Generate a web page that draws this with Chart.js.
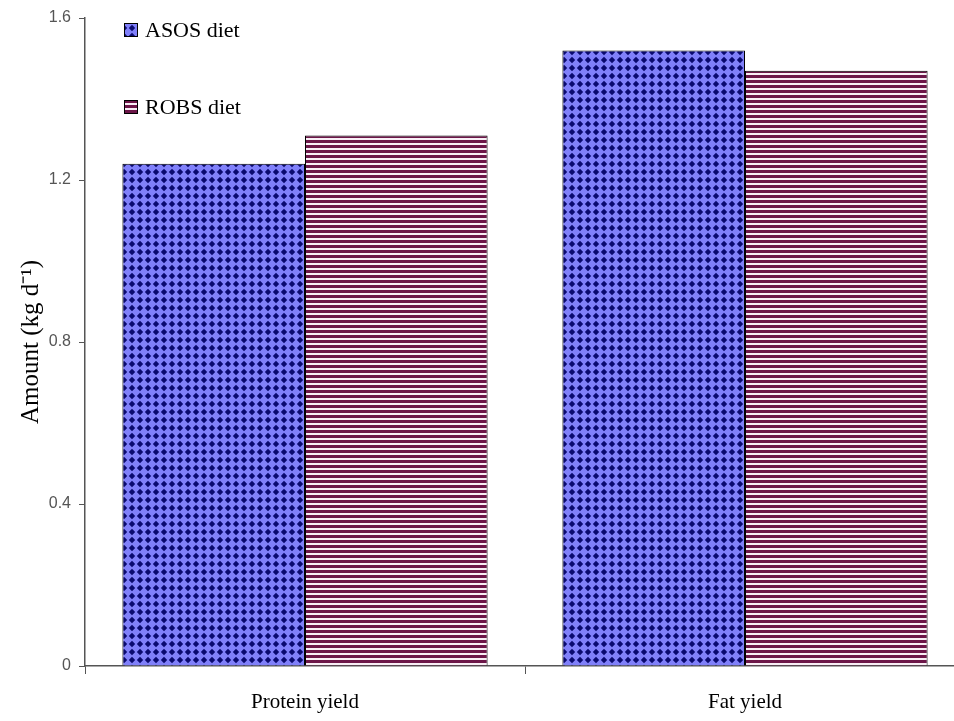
<!DOCTYPE html>
<html>
<head>
    <meta charset="UTF-8">
    <title>Protein and fat yield</title>
    <script src="https://cdn.jsdelivr.net/npm/chart.js"></script>
    <style>
        body {
          margin: 0;
          padding: 0;
          background-color: #ffffff;
          overflow: hidden;
        }
        #wrap {
          width: 965px;
          height: 721px;
        }
    </style>
</head>
<body>
<div id="wrap"><canvas id="barChart" width="965" height="721"></canvas></div>

<script>
    const categories = ["Protein yield", "Fat yield"];
    const asosValues = [1.24, 1.52];
    const robsValues = [1.31, 1.47];
    const seriesNames = ["ASOS diet", "ROBS diet"];
    const yTicks = [0, 0.4, 0.8, 1.2, 1.6];
    const yTickLabels = ["0", "0.4", "0.8", "1.2", "1.6"];

    // diamond fill for ASOS
    function diamondPattern() {
      const c = document.createElement("canvas");
      c.width = 8; c.height = 8;
      const g = c.getContext("2d");
      g.fillStyle = "#8080fa";
      g.fillRect(0, 0, 8, 8);
      g.fillStyle = "#0a0a70";
      g.beginPath();
      g.moveTo(4, 0.8); g.lineTo(7.2, 4); g.lineTo(4, 7.2); g.lineTo(0.8, 4);
      g.closePath();
      g.fill();
      return g.createPattern(c, "repeat");
    }

    // horizontal stripes for ROBS
    function stripePattern() {
      const c = document.createElement("canvas");
      c.width = 4; c.height = 5;
      const g = c.getContext("2d");
      g.fillStyle = "#f8eef5";
      g.fillRect(0, 0, 4, 5);
      g.fillStyle = "#6c1648";
      g.fillRect(0, 0, 4, 3);
      return g.createPattern(c, "repeat");
    }

    const fills = [diamondPattern(), stripePattern()];

    const boxLegend = {
      id: "boxLegend",
      afterDraw(chart) {
        const ctx = chart.ctx;
        const rows = [30, 107];
        ctx.save();
        chart.data.datasets.forEach((ds, i) => {
          const y = rows[i];
          ctx.fillStyle = ds.backgroundColor;
          ctx.fillRect(124, y - 7, 14, 14);
          ctx.strokeStyle = "#000";
          ctx.lineWidth = 1;
          ctx.strokeRect(124.5, y - 6.5, 13, 13);
          ctx.fillStyle = "#000";
          ctx.font = "22px 'Liberation Serif'";
          ctx.textBaseline = "middle";
          ctx.fillText(ds.label, 145, y + 1);
        });
        ctx.restore();
      }
    };

    const ctx = document.getElementById("barChart").getContext("2d");

    new Chart(ctx, {
      type: "bar",
      data: {
        labels: categories,
        datasets: [{
          label: seriesNames[0],
          data: asosValues,
          backgroundColor: fills[0],
          borderColor: "#000",
          borderWidth: 1,
          borderSkipped: "bottom"
        }, {
          label: seriesNames[1],
          data: robsValues,
          backgroundColor: fills[1],
          borderColor: "#000",
          borderWidth: 1,
          borderSkipped: "bottom"
        }]
      },
      plugins: [boxLegend],
      options: {
        responsive: false,
        animation: false,
        categoryPercentage: 0.83,
        barPercentage: 1.0,
        layout: {
          padding: { top: 18, right: 0 }
        },
        plugins: {
          legend: { display: false },
          tooltip: { enabled: false }
        },
        scales: {
          x: {
            afterFit(s) { s.height = 55; },
            border: { color: "#555", width: 1.5 },
            grid: {
              offset: true,
              drawOnChartArea: false,
              tickLength: 8,
              color: "#555"
            },
            ticks: {
              color: "#000",
              padding: 16,
              font: { family: "'Liberation Serif'", size: 21 }
            }
          },
          y: {
            min: 0,
            max: 1.6,
            afterFit(s) { s.width = 85; },
            afterBuildTicks(s) {
              s.ticks = yTicks.map(v => ({ value: v }));
            },
            border: { color: "#555", width: 1.5 },
            grid: {
              drawOnChartArea: false,
              tickLength: 6,
              color: "#555"
            },
            ticks: {
              color: "#555",
              padding: 8,
              font: { family: "'Liberation Sans'", size: 16 },
              callback: function(value) {
                const i = yTicks.indexOf(value);
                return i >= 0 ? yTickLabels[i] : "";
              }
            },
            title: {
              display: true,
              text: "Amount (kg d\u207B\u00B9)",
              color: "#000",
              padding: { top: 16, bottom: 0 },
              font: { family: "'Liberation Serif'", size: 25 }
            }
          }
        }
      }
    });
</script>
</body>
</html>
